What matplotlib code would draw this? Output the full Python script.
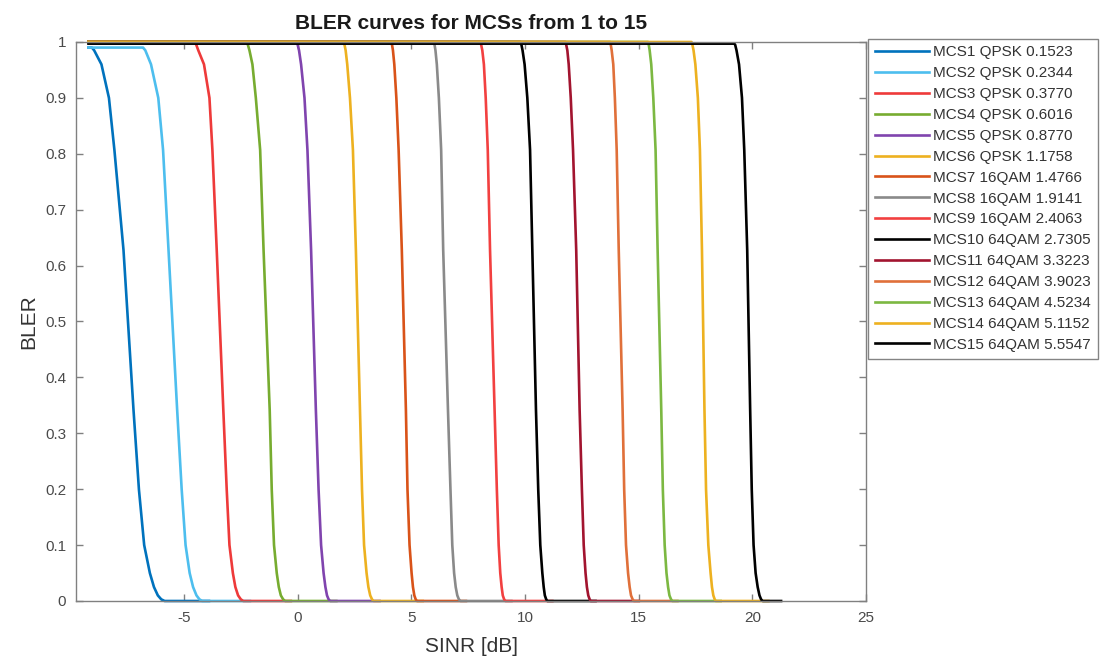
import matplotlib
matplotlib.use('Agg')
import matplotlib.pyplot as plt

plt.rcParams['font.family'] = ['Liberation Sans', 'DejaVu Sans']
plt.rcParams['axes.unicode_minus'] = False

# legend labels
labels = ['MCS1 QPSK 0.1523', 'MCS2 QPSK 0.2344', 'MCS3 QPSK 0.3770', 'MCS4 QPSK 0.6016',
          'MCS5 QPSK 0.8770', 'MCS6 QPSK 1.1758', 'MCS7 16QAM 1.4766', 'MCS8 16QAM 1.9141',
          'MCS9 16QAM 2.4063', 'MCS10 64QAM 2.7305', 'MCS11 64QAM 3.3223', 'MCS12 64QAM 3.9023',
          'MCS13 64QAM 4.5234', 'MCS14 64QAM 5.1152', 'MCS15 64QAM 5.5547']

colors = ['#0072BD', '#4DBEEE', '#EE3A3A', '#77AC30', '#8044AE', '#EDB120', '#D95319',
          '#8A8A8A', '#F24040', '#000000', '#A2142F', '#E0703A', '#7CB842', '#EDB120', '#000000']

# values
sinr_left = -9.2                       # every curve starts here
bler_top = [0.99, 0.99, 1, 1, 1, 1, 1, 1, 1, 1, 1, 1, 1, 1, 0.997]
sinr_drop = [-9.1, -6.86, -4.52, -2.24, -0.04, 2.02, 4.12, 5.98, 8.04, 9.80,
             11.78, 13.74, 15.41, 17.32, 19.20]
bler_levels = [0.995, 0.985, 0.96, 0.9, 0.807, 0.628, 0.342, 0.199, 0.1, 0.05, 0.025, 0.01, 0.003, 0.0]
sinr_at_levels = [
    [-9.05, -8.95, -8.63, -8.30, -8.06, -7.66, -7.22, -6.98, -6.75, -6.50, -6.32, -6.15, -6.00, -5.85],
    [-6.80, -6.70, -6.45, -6.13, -5.92, -5.68, -5.30, -5.10, -4.93, -4.75, -4.60, -4.45, -4.32, -4.20],
    [-4.46, -4.37, -4.12, -3.88, -3.75, -3.56, -3.27, -3.12, -3.00, -2.85, -2.74, -2.62, -2.50, -2.39],
    [-2.19, -2.12, -1.99, -1.84, -1.65, -1.50, -1.23, -1.14, -1.04, -0.92, -0.83, -0.74, -0.64, -0.55],
    [0.00, 0.06, 0.15, 0.30, 0.43, 0.59, 0.80, 0.92, 1.03, 1.14, 1.22, 1.29, 1.36, 1.43],
    [2.06, 2.11, 2.18, 2.30, 2.43, 2.56, 2.74, 2.83, 2.92, 3.03, 3.11, 3.19, 3.27, 3.34],
    [4.15, 4.19, 4.25, 4.34, 4.44, 4.58, 4.76, 4.83, 4.92, 5.01, 5.07, 5.13, 5.19, 5.25],
    [6.02, 6.06, 6.12, 6.21, 6.31, 6.40, 6.61, 6.72, 6.80, 6.88, 6.95, 7.02, 7.09, 7.16],
    [8.07, 8.12, 8.19, 8.27, 8.36, 8.46, 8.66, 8.76, 8.84, 8.91, 8.97, 9.02, 9.08, 9.14],
    [9.84, 9.89, 9.98, 10.10, 10.22, 10.32, 10.48, 10.58, 10.67, 10.76, 10.82, 10.87, 10.93, 10.98],
    [11.81, 11.86, 11.92, 12.01, 12.11, 12.25, 12.40, 12.50, 12.58, 12.66, 12.72, 12.78, 12.84, 12.89],
    [13.77, 13.81, 13.88, 13.95, 14.03, 14.12, 14.29, 14.36, 14.44, 14.53, 14.60, 14.66, 14.73, 14.79],
    [15.44, 15.48, 15.55, 15.64, 15.74, 15.83, 15.99, 16.06, 16.14, 16.22, 16.29, 16.35, 16.42, 16.48],
    [17.36, 17.41, 17.49, 17.60, 17.69, 17.78, 17.89, 17.96, 18.06, 18.16, 18.22, 18.28, 18.34, 18.39],
    [19.24, 19.30, 19.41, 19.54, 19.64, 19.77, 19.90, 19.97, 20.05, 20.14, 20.23, 20.31, 20.38, 20.45],
]
sinr_right = [-3.9, -2.1, -0.3, 1.7, 3.6, 5.5, 7.4, 9.4, 11.2, 13.1, 15.0, 16.7, 18.6, 20.7, 21.26]

xticks = [-5, 0, 5, 10, 15, 20, 25]
yticks = [0, 0.1, 0.2, 0.3, 0.4, 0.5, 0.6, 0.7, 0.8, 0.9, 1]
ytick_labels = ['0', '0.1', '0.2', '0.3', '0.4', '0.5', '0.6', '0.7', '0.8', '0.9', '1']

fig = plt.figure(figsize=(11.09, 6.6), dpi=100)
ax = fig.add_axes([0.0685, 0.0894, 0.7125, 0.8470])

for i in range(len(labels)):
    xs = [sinr_left, sinr_drop[i]] + sinr_at_levels[i] + [sinr_right[i]]
    ys = [bler_top[i], bler_top[i]] + [min(b, bler_top[i]) for b in bler_levels] + [0.0]
    ax.plot(xs, ys, color=colors[i], linewidth=1.9, label=labels[i], clip_on=False,
            solid_joinstyle='round')

ax.set_xlim(-9.75, 25)
ax.set_ylim(0, 1)
ax.set_xticks(xticks)
ax.set_yticks(yticks)
ax.set_yticklabels(ytick_labels)

spine_col = '#808080'
for s in ax.spines.values():
    s.set_color(spine_col)
    s.set_linewidth(1.0)
ax.tick_params(direction='in', top=True, right=True, length=5, width=1.0,
               color=spine_col, labelcolor='#4a4a4a', labelsize=11, pad=7)

ax.set_title('BLER curves for MCSs from 1 to 15', fontsize=15, fontweight='bold',
             color='#1a1a1a', pad=9)
ax.set_xlabel('SINR [dB]', fontsize=15, color='#333333', labelpad=9)
ax.set_ylabel('BLER', fontsize=15, color='#333333', labelpad=5)

leg = ax.legend(loc='upper left', bbox_to_anchor=(1.003, 1.006), fontsize=11,
                handlelength=3.5, handletextpad=0.3, labelspacing=0.45,
                borderpad=0.45, frameon=True, fancybox=False, borderaxespad=0)
leg.get_frame().set_edgecolor('#666666')
leg.get_frame().set_linewidth(1.0)
for t in leg.get_texts():
    t.set_color('#333333')

fig.savefig('out.png', dpi=100)
